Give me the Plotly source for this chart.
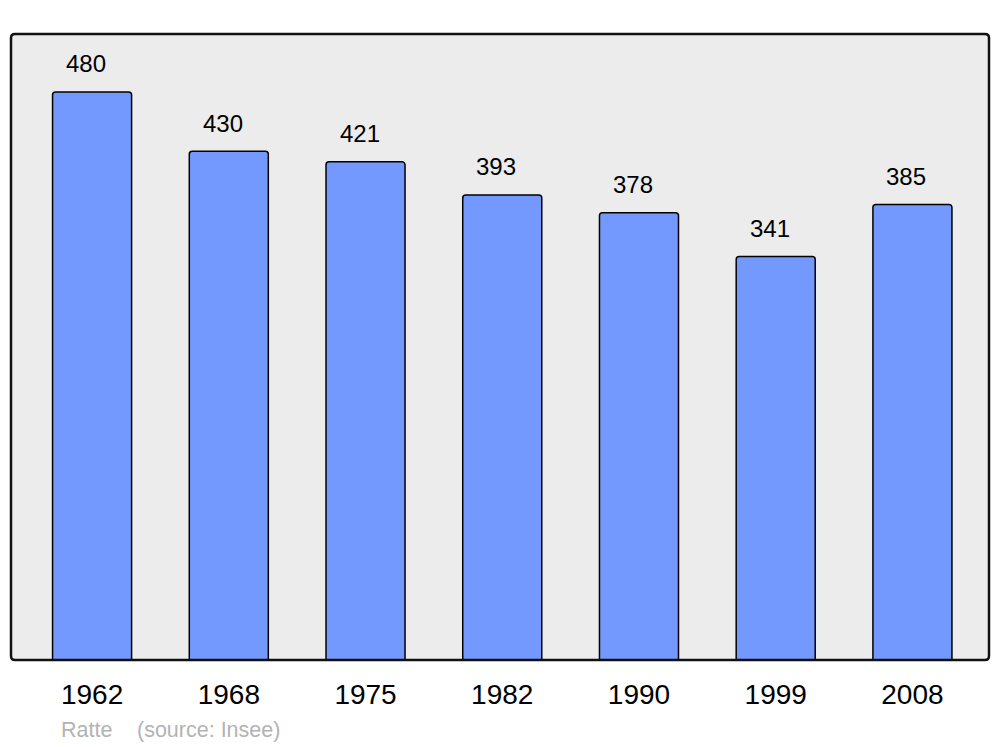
import plotly.graph_objects as go

years = ["1962", "1968", "1975", "1982", "1990", "1999", "2008"]
population = [480, 430, 421, 393, 378, 341, 385]
source_name = "Ratte"
source_note = "(source: Insee)"

# page has an 8px body margin: the figure starts at (8, 8) in the window
W, H = 984, 739
ml, mr, mt, mb = 3, 3, 26, 87
pw, ph = W - ml - mr, H - mt - mb
page_left = ml + 8

fig = go.Figure()
fig.add_trace(go.Bar(
    x=list(range(len(years))), y=population,
    width=0.578,
    marker=dict(color="#7399ff", line=dict(color="#000000", width=1.5), cornerradius=3),
    hoverinfo="skip",
))

for i, v in enumerate(population):
    fig.add_annotation(x=i, y=v, text=str(v), showarrow=False, yanchor="middle",
                       yshift=28, xshift=-6,
                       font=dict(family="Liberation Sans, Arial", size=24, color="#000"))

fig.add_annotation(xref="paper", yref="paper", x=(58.5 - page_left) / pw, y=0, yshift=-70,
                   xanchor="left", yanchor="middle", text=source_name, showarrow=False,
                   font=dict(family="Liberation Sans, Arial", size=21.5, color="#b3b3b3"))
fig.add_annotation(xref="paper", yref="paper", x=(134.5 - page_left) / pw, y=0, yshift=-70,
                   xanchor="left", yanchor="middle", text=source_note, showarrow=False,
                   font=dict(family="Liberation Sans, Arial", size=21.5, color="#b3b3b3"))

# rounded border path in paper coordinates
rx, ry = 4 / pw, 4 / ph
path = (f"M {rx},0 L {1-rx},0 Q 1,0 1,{ry} L 1,{1-ry} Q 1,1 {1-rx},1 "
        f"L {rx},1 Q 0,1 0,{1-ry} L 0,{ry} Q 0,0 {rx},0 Z")
fig.add_shape(type="path", path=path, xref="paper", yref="paper", layer="below",
              fillcolor="#ececec", line=dict(width=0))
fig.add_shape(type="path", path=path, xref="paper", yref="paper", layer="above",
              line=dict(color="#111111", width=2.5))

fig.update_layout(
    width=W, height=H,
    margin=dict(l=ml, r=mr, t=mt, b=mb),
    paper_bgcolor="#ffffff", plot_bgcolor="rgba(0,0,0,0)",
    showlegend=False,
    xaxis=dict(range=[-0.593, 6.56], tickmode="array", tickvals=list(range(len(years))),
               ticktext=years, showgrid=False, zeroline=False, showline=False,
               ticks="outside", ticklen=0, ticklabelstandoff=9,
               tickfont=dict(family="Liberation Sans, Arial", size=28, color="#000")),
    yaxis=dict(range=[0, 529], showgrid=False, zeroline=False, showticklabels=False,
               showline=False),
)

fig.write_html("out.html")
